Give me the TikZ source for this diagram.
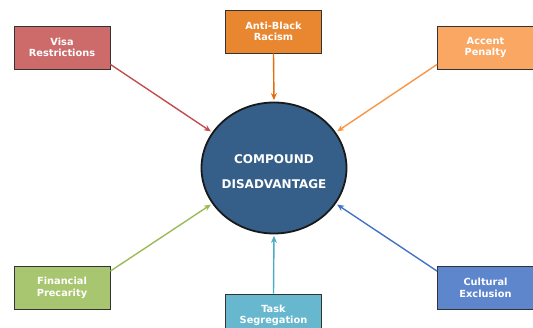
\documentclass[tikz,border=0pt]{standalone}
\usepackage{fontspec}
\setmainfont{DejaVu Sans}
\usetikzlibrary{positioning,shapes.geometric,arrows.meta}

\definecolor{visafill}{HTML}{CD6B6B}
\definecolor{visaline}{HTML}{C0504D}
\definecolor{racefill}{HTML}{E8872F}
\definecolor{raceline}{HTML}{E46C0A}
\definecolor{accentfill}{HTML}{F9A763}
\definecolor{accentline}{HTML}{F79646}
\definecolor{finfill}{HTML}{A8C66F}
\definecolor{finline}{HTML}{9BBB59}
\definecolor{taskfill}{HTML}{67B8CF}
\definecolor{taskline}{HTML}{4BACC6}
\definecolor{cultfill}{HTML}{5E86CD}
\definecolor{cultline}{HTML}{4472C4}
\definecolor{corefill}{HTML}{355F89}

\begin{document}
\begin{tikzpicture}[
		x=1pt,y=-1pt
		,box/.style={rectangle, draw=black!80, line width=.8pt, minimum width=96pt, minimum height=43pt, text=white, align=center, font=\bfseries\fontsize{9.8}{11.5}\selectfont}
		,core/.style={ellipse, draw=black!90, line width=1.8pt, fill=corefill, inner sep=0pt, minimum width=145pt, minimum height=131pt}
		,coretext/.style={text=white, align=center, font=\bfseries\fontsize{12}{25}\selectfont}
		,feed/.style={line width=1.4pt, shorten >=1.5pt, -{Stealth[length=7pt,width=6pt]}}
	]
		\useasboundingbox (0,0) rectangle (533,328);
		\node [core] (C) at (274,168) {};
		\node [coretext] (CT) at ([yshift=-3.5pt]C.center) {COMPOUND\\DISADVANTAGE};

		\node [box, fill=visafill] (V) at (62,47.5) {Visa\\Restrictions};
		\node [box, fill=racefill] (R) at (273.5,31.5) {Anti-Black\\Racism};
		\node [box, fill=accentfill] (A) at (485.5,47.5) {Accent\\Penalty};
		\node [box, fill=finfill] (F) at (62,288) {Financial\\Precarity};
		\node [box, fill=taskfill] (T) at (273.5,315.5) {Task\\Segregation};
		\node [box, fill=cultfill] (X) at (485.5,288) {Cultural\\Exclusion};

		\draw [feed, visaline] ([yshift=5pt]V.south east) -- (C.150);
		\draw [feed, raceline] (R.south) -- (C.north);
		\draw [feed, accentline] ([yshift=5pt]A.south west) -- (C.30);
		\draw [feed, finline] ([yshift=-5pt]F.north east) -- (C.210);
		\draw [feed, taskline] (T.north) -- (C.south);
		\draw [feed, cultline] ([yshift=-5pt]X.north west) -- (C.330);
	\end{tikzpicture}
\end{document}
